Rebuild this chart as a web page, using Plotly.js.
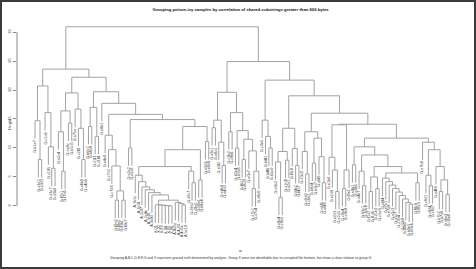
<!DOCTYPE html>
<html>
<head>
<meta charset="utf-8">
<script src="https://cdn.plot.ly/plotly-3.0.1.min.js"></script>
<style>
html, body { margin: 0; padding: 0; background: #fff; }
#frame { width: 476px; height: 269px; box-sizing: border-box; border: 2px solid #3b3b3b; }
#plot { width: 472px; height: 265px; }
</style>
</head>
<body>
<div id="frame"><div id="plot"></div></div>
<script>
// leaf names, in plotting order (left to right)
const labelsL = [
  "G.b1e7", "G.a3d2", "G.a3d5", "G.c1a8", "G.c195", "G.d3a7", "G.d3b0",
  "G.e2c4", "G.f7a1", "G.f7a6", "G.ae9c", "G.b5d3",
  "G.a7ae", "G.c2f8", "G.c4b0", "G.c4b9",
  "G.b6a2", "G.b6a9", "G.d1f3", "G.d1f4",
  "G.e8b1",
  "G.a4e0", "G.c7d2", "G.c7d8", "G.f0a3", "G.f0a5", "G.f0b1", "G.f0b7",
  "G.e5c2", "G.e5c6",
  "A.1b2c", "A.1b3f", "A.2c07", "A.2c4e", "A.3a91", "A.3a9d",
  "X.01", "X.02", "X.03", "X.04", "X.05", "X.06",
  "A.4d2e", "A.4d31", "A.4d3a", "A.5e10",
  "G.d0c7", "G.d9e2", "G.d9e5",
  "G.b8a1", "G.b8a4",
  "G.e0d6", "G.e0d9"
];
const labelsR = [
  "G.a8c1", "G.a8c5", "G.e3f2", "G.e4a0", "G.e4a3",
  "G.c9b2", "G.c9b6",
  "G.b2e4", "G.b2e8", "G.f6d1", "G.f6d3", "G.a0b7", "G.d7c2", "G.d7c4", "G.d8e0",
  "G.c3e5", "G.b4f1", "G.b4f6", "G.b5a0",
  "G.e9a2", "G.e9a4", "G.e9a5", "G.a2d8", "G.a2e1", "G.f3c9", "G.f4a2", "G.f4a7",
  "G.d5b3", "G.c6e0", "G.c6e2", "G.b9d4", "G.b9d7", "G.a6f0", "G.a6f5", "G.a6f8",
  "G.e1b6", "G.e2d0", "G.e2d3", "G.e2d5", "G.c0a4", "G.c0a9", "G.f9e1",
  "G.a9b2", "G.a9b5", "G.d4e7", "G.b3c1", "G.b3c8", "G.f1d2", "G.f1d6", "G.c5e3", "G.c5e9",
  "G.e6f4", "G.e7a1", "G.e7a8", "G.a5c3", "G.a5c7", "G.d2b4", "G.d2b9", "G.b0e2", "G.b0e5", "G.b0e6",
  "G.f8c0", "G.f8c3",
  "G.a7b0", "G.c8d1", "G.c8d4", "G.c8d7", "G.e4f9", "G.b7a2", "G.b7a6", "G.d6e3", "G.d6e8"
];
const labels = labelsL.concat(labelsR);

// clades: [height, left, right]; a number is a leaf (index into labels)
const cladeLA = [20.7, [14.7, 0, [8.0, 1, 2]], [16.1, 3, [10.2, 4, [6.5, 5, 6]]]];
const cladeLB1 = [19.5,
  [16.4, [12.8, 7, [6.0, 8, 9]], [14.3, 10, 11]],
  [16.7, 12, [13.4, 13, [8.0, 14, 15]]]];
const cladeLB2a = [17.0, [13.7, 16, 17], [12.0, 18, 19]];
const cladeLB2c = [12.2, 21, [9.7, 22, [6.9, 23, [2.6, [1.0, 24, 25], [1.0, 26, 27]]]]];
const cladeLadder = [5.3, 30, [4.2, 31, [3.3, 32, [2.8, 33, [2.3, 34, [1.9, 35,
  [1.0, [0.2, 36, [0.15, 37, [0.1, 38, [0.05, 39, [0.02, 40, 41]]]]],
        [0.6, 42, [0.4, 43, [0.2, 44, 45]]]]]]]]]];
const cladeLB2d = [14.9, [10.0, 28, 29],
  [13.7, [9.7, [6.8, cladeLadder, [6.0, 46, [4.0, 47, 48]]], [4.5, 49, 50]], [11.1, 51, 52]]];
const cladeL = [23.6, cladeLA,
  [22.2, cladeLB1, [19.7, cladeLB2a, [17.7, 20, [15.8, cladeLB2c, cladeLB2d]]]]];

const cladeR1 = [19.6,
  [14.8, [13.5, 53, 54], [11.0, 55, [7.0, 56, 57]]],
  [16.1, [12.8, 58, 59], [13.0, [10.0, 60, 61], [11.5, [8.0, 62, 63], [9.5, 64, [6.0, [3.0, 65, 66], 67]]]]]];
const cladeR2a = [14.8, 68, [12.0, 69, [10.0, 70, 71]]];
const cladeR2b1 = [13.4, [9.4, [7.6, 72, [1.5, 73, 74]], [7.9, 75, 76]], [9.9, 77, [7.0, 78, 79]]];
const cladeR2c = [12.8, [9.4, 80, [5.5, 81, 82]], [11.7, [7.4, 83, 84], [8.5, 85, [4.0, 86, 87]]]];
const cladeR2d = [14.0, [8.4, 88, [6.2, 89, [2.5, 90, 91]]], [6.2, [3.0, 92, 93], 94]];
const cladeR2e = [10.2, [7.1, 95, 96],
  [8.8, [6.0, 97, [3.5, 98, 99]],
    [6.8, [5.0, [2.5, 100, 101], [3.0, 102, 103]],
      [5.7, [4.8, 104, [4.2, 105, [3.6, 106, [3.0, 107, [2.4, 108, [1.8, 109, [1.2, 110, [0.6, 111, [0.3, 112, 113]]]]]]]]],
        [4.0, 114, 115]]]]];
const cladeR2f = [11.0, 116, [9.7, [5.3, 117, [3.5, 118, 119]], [6.8, 120, [4.5, [2.5, 121, 122], [2.0, 123, 124]]]]];
const cladeR = [24.9, cladeR1,
  [21.7, cladeR2a, [19.0, cladeR2b1, [16.0, cladeR2c, [14.1, cladeR2d, [11.7, cladeR2e, cladeR2f]]]]]];

const tree = [30.9, cladeL, cladeR];

const titleText = "Grouping poison-ivy samples by correlation of shared-substrings greater than 600 bytes";
const subText = "Grouping A,B,C,D,E,F,G and X represent ground truth determined by analysis. Group X were not identifiable due to corrupted file formats, but show a close relation to group G.";
const yTicks = [0, 5, 10, 15, 20, 25, 30];

// walk the tree like plot.hclust does
const hang = 0.1 * tree[0];
const segX = [], segY = [], leaves = [];
let nextLeaf = 0;
function place(node, parentH) {
  if (typeof node === "number") {
    const x = nextLeaf++;
    const bottom = parentH - hang;
    segX.push(x, x, null);
    segY.push(parentH, bottom, null);
    leaves.push({ x: x, y: bottom, label: labels[node] });
    return x;
  }
  const [h, a, b] = node;
  const xa = place(a, h);
  const xb = place(b, h);
  segX.push(xa, xb, null);
  segY.push(h, h, null);
  const x = (xa + xb) / 2;
  if (parentH !== undefined) {
    segX.push(x, x, null);
    segY.push(parentH, h, null);
  }
  return x;
}
place(tree);

const font = "Liberation Sans, Arial, sans-serif";

const annotations = leaves.map(l => ({
  x: l.x, y: l.y, xref: "x", yref: "y",
  text: l.label, textangle: -90, showarrow: false,
  xanchor: "center", yanchor: "top", yshift: -1, borderpad: 0,
  font: { family: font, size: 3.8, color: "#333" }
}));
annotations.push(
  { x: 0, xref: "paper", xshift: -12, y: 14, yref: "y", text: "Height", textangle: -90,
    showarrow: false, font: { family: font, size: 4, color: "#333" } },
  { x: 0.5, xref: "paper", y: 0, yref: "paper", yshift: -5, text: "w", showarrow: false,
    font: { family: font, size: 4, color: "#333" } },
  { x: 0.5, xref: "paper", y: 0, yref: "paper", yshift: -12, text: subText, showarrow: false,
    font: { family: font, size: 3.4, color: "#333" } }
);

const traces = [{
  x: segX, y: segY, mode: "lines", type: "scatter",
  line: { color: "#a2a2a2", width: 1 }, hoverinfo: "skip"
}];

const layout = {
  width: 472, height: 265,
  margin: { l: 15, r: 10, t: 18, b: 17 },
  paper_bgcolor: "#fff", plot_bgcolor: "#fff",
  showlegend: false,
  title: { text: "<b>" + titleText + "</b>", x: 0.5, xref: "paper", y: 0.97, yref: "container",
           yanchor: "middle", font: { family: font, size: 4.2, color: "#111" } },
  xaxis: { range: [-5.39, 128.4], visible: false, fixedrange: true },
  yaxis: {
    range: [-7.59, 32.07], tickvals: yTicks, ticktext: yTicks.map(String),
    ticks: "outside", ticklen: 3, tickcolor: "#888", tickangle: -90,
    tickfont: { family: font, size: 4, color: "#333" },
    showgrid: false, zeroline: false, showline: false, fixedrange: true
  },
  shapes: [{ type: "line", xref: "paper", x0: 0, x1: 0, yref: "y", y0: 0, y1: 30,
             line: { color: "#888", width: 1 } }],
  annotations: annotations
};

Plotly.newPlot("plot", traces, layout, { staticPlot: true });
</script>
</body>
</html>
